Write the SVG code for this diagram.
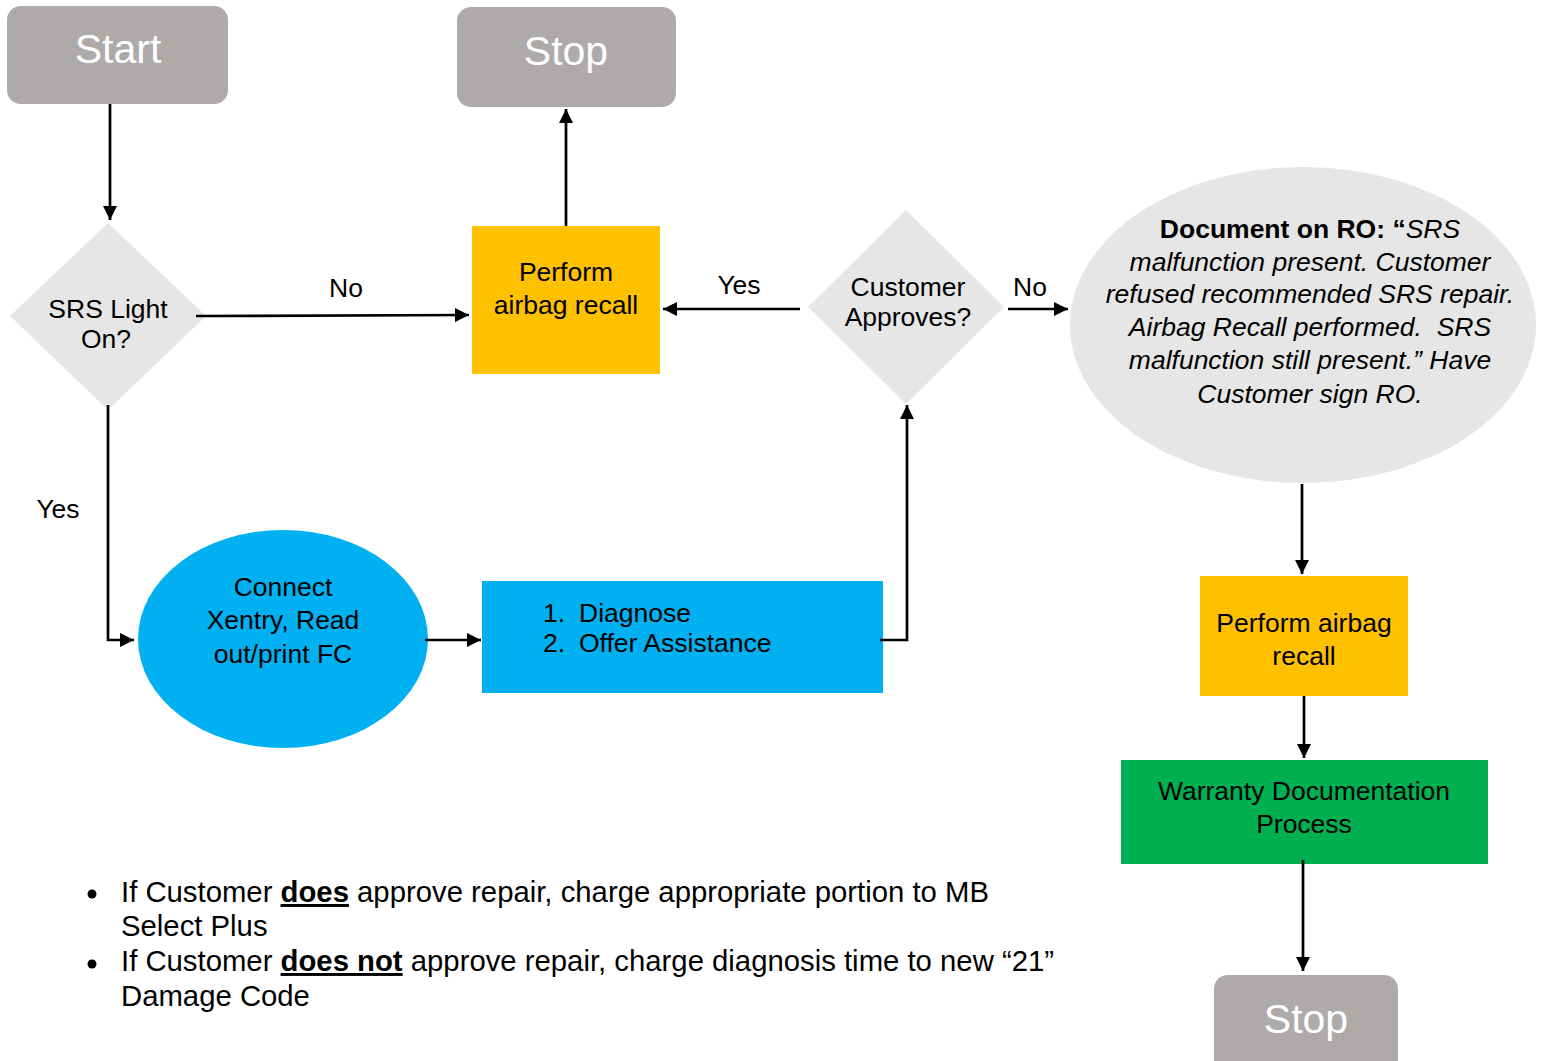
<svg xmlns="http://www.w3.org/2000/svg" width="1543" height="1061" viewBox="0 0 1543 1061">
<style>
text{font-family:"Liberation Sans",Arial,sans-serif;fill:#000}
.t{font-size:26.5px;text-anchor:middle}
.term{fill:#aeaaaa}
.termt{font-size:41px;fill:#fff;text-anchor:middle}
.dia{fill:#e6e6e6}
.conn{fill:none;stroke:#000;stroke-width:2.7}
.lbl{font-size:26.5px;text-anchor:middle}
.it{font-style:italic}
.b{font-weight:bold}
.note{font-size:29.3px}
.num{font-size:26.5px}
</style>
<defs>
<marker id="ah" viewBox="0 0 10 10" refX="10" refY="5" markerWidth="5.2" markerHeight="5.2" markerUnits="strokeWidth" orient="auto">
<path d="M0,0 L10,5 L0,10 z" fill="#000"/>
</marker>
</defs>
<rect width="1543" height="1061" fill="#fff"/>

<g id="start">
<rect class="term" x="7" y="6" width="221" height="98" rx="14"/>
<text class="termt" x="118" y="63">Start</text>
</g>
<g id="stop1">
<rect class="term" x="457" y="7" width="219" height="100" rx="14"/>
<text class="termt" x="566" y="65">Stop</text>
</g>
<g id="srs">
<polygon class="dia" points="108,223 206,316 108,410 10,316"/>
<text class="t" x="108" y="318">SRS Light</text>
<text class="t" x="106" y="348">On?</text>
</g>
<g id="recall1">
<rect x="472" y="226" width="188" height="148" fill="#ffc000"/>
<text class="t" x="566" y="281">Perform</text>
<text class="t" x="566" y="314">airbag recall</text>
</g>
<g id="approves">
<polygon class="dia" points="906,210 1004,307 906,404 808,307"/>
<text class="t" x="908" y="296">Customer</text>
<text class="t" x="908" y="326">Approves?</text>
</g>
<g id="document">
<ellipse cx="1303" cy="325" rx="233" ry="158" fill="#e6e6e6"/>
<text class="t" x="1310" y="238"><tspan class="b">Document on RO: “</tspan><tspan class="it">SRS</tspan></text>
<text class="t it" x="1310" y="271">malfunction present. Customer</text>
<text class="t it" x="1310" y="303">refused recommended SRS repair.</text>
<text class="t it" x="1310" y="336" xml:space="preserve">Airbag Recall performed.  SRS</text>
<text class="t it" x="1310" y="369">malfunction still present.” Have</text>
<text class="t it" x="1310" y="403">Customer sign RO.</text>
</g>
<g id="xentry">
<ellipse cx="283" cy="639" rx="145" ry="109" fill="#00b0f0"/>
<text class="t" x="283" y="596">Connect</text>
<text class="t" x="283" y="629">Xentry, Read</text>
<text class="t" x="283" y="663">out/print FC</text>
</g>
<g id="diagnose">
<rect x="482" y="581" width="401" height="112" fill="#00b0f0"/>
<text class="num" x="543" y="622">1.</text>
<text class="num" x="579" y="622">Diagnose</text>
<text class="num" x="543" y="652">2.</text>
<text class="num" x="579" y="652">Offer Assistance</text>
</g>
<g id="recall2">
<rect x="1200" y="576" width="208" height="120" fill="#ffc000"/>
<text class="t" x="1304" y="632">Perform airbag</text>
<text class="t" x="1304" y="665">recall</text>
</g>
<g id="warranty">
<rect x="1121" y="760" width="367" height="104" fill="#00b050"/>
<text class="t" x="1304" y="800">Warranty Documentation</text>
<text class="t" x="1304" y="833">Process</text>
</g>
<g id="stop2">
<rect class="term" x="1214" y="975" width="184" height="100" rx="14"/>
<text class="termt" x="1306" y="1033">Stop</text>
</g>

<g id="connectors">
<path class="conn" d="M110,104 L110,220" marker-end="url(#ah)"/>
<path class="conn" d="M196,316 L469,315" marker-end="url(#ah)"/>
<path class="conn" d="M566,226 L566,109" marker-end="url(#ah)"/>
<path class="conn" d="M800,309 L663,309" marker-end="url(#ah)"/>
<path class="conn" d="M1008,309 L1068,309" marker-end="url(#ah)"/>
<path class="conn" d="M108,405 L108,640 L134,640" marker-end="url(#ah)"/>
<path class="conn" d="M425,640 L481,640" marker-end="url(#ah)"/>
<path class="conn" d="M880,640 L907,640 L907,405" marker-end="url(#ah)"/>
<path class="conn" d="M1302,484 L1302,574" marker-end="url(#ah)"/>
<path class="conn" d="M1304,696 L1304,758" marker-end="url(#ah)"/>
<path class="conn" d="M1303,860 L1303,971" marker-end="url(#ah)"/>
<text class="lbl" x="346" y="297">No</text>
<text class="lbl" x="739" y="294">Yes</text>
<text class="lbl" x="1030" y="296">No</text>
<text class="lbl" x="58" y="518">Yes</text>
</g>

<g id="notes">
<circle cx="92" cy="894" r="4.5" fill="#000"/>
<circle cx="92" cy="964" r="4.5" fill="#000"/>
<text class="note" x="121" y="902">If Customer <tspan class="b" text-decoration="underline">does</tspan> approve repair, charge appropriate portion to MB</text>
<text class="note" x="121" y="936">Select Plus</text>
<text class="note" x="121" y="971">If Customer <tspan class="b" text-decoration="underline">does not</tspan> approve repair, charge diagnosis time to new “21”</text>
<text class="note" x="121" y="1006">Damage Code</text>
</g>
</svg>
